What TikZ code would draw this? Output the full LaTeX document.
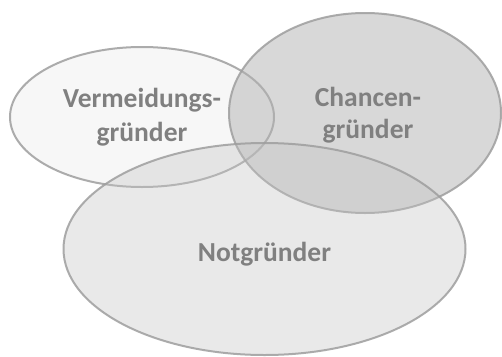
\documentclass[tikz,border=0pt]{standalone}
\usepackage{fontspec}
\setmainfont{Carlito}
\usetikzlibrary{shapes.geometric}
\begin{document}
\begin{tikzpicture}[x=1pt,y=-1pt,
  set/.style={ellipse, draw=black!38, line width=2pt, inner sep=0pt, draw opacity=0.85},
  lbl/.style={text=black!50, font=\fontsize{27.5}{34}\selectfont\bfseries, align=center, anchor=base}]
\useasboundingbox (0,0) rectangle (502,356);
\fill[white] (0,0) rectangle (502,356);
\node[set, fill=black!3, minimum width=264pt, minimum height=140pt] (verm) at (142,117) {};
\node[set, fill=black!30, fill opacity=0.5, minimum width=272pt, minimum height=200pt] (chan) at (365,113) {};
\node[set, fill=black!23, fill opacity=0.36, minimum width=402pt, minimum height=212pt] (not) at (264.5,249) {};
\node[lbl] (t1) at (142,107) {Vermeidungs-};
\node[lbl] (t1b) at (142,141) {gründer};
\node[lbl] (t2) at (368,106) {Chancen-};
\node[lbl] (t2b) at (368,138) {gründer};
\node[lbl] (t3) at (264.5,261) {Notgründer};
\end{tikzpicture}
\end{document}
